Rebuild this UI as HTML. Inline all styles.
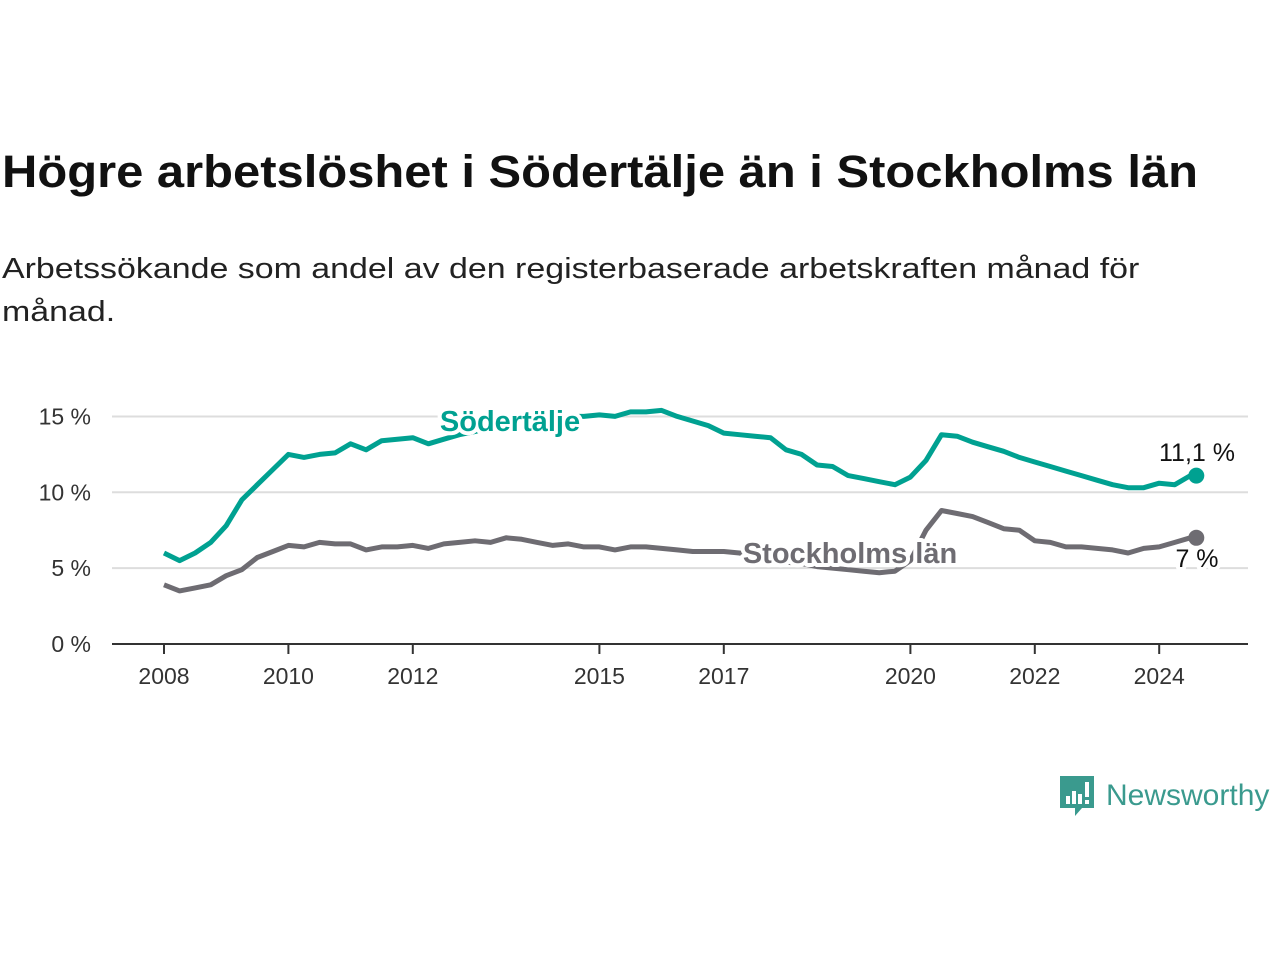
<!DOCTYPE html>
<html><head><meta charset="utf-8"><style>
body{margin:0;background:#fff;width:1280px;height:960px;overflow:hidden;font-family:"Liberation Sans","DejaVu Sans",sans-serif;color:#111}
h1{position:absolute;left:2px;top:146px;margin:0;font-size:45px;font-weight:bold;color:#111;transform:scaleX(1.087);transform-origin:left top;white-space:nowrap}
p{position:absolute;left:2px;top:248px;margin:0;font-size:29px;line-height:43px;color:#222;transform:scaleX(1.17);transform-origin:left top;white-space:nowrap}
</style></head><body>
<h1>Högre arbetslöshet i Södertälje än i Stockholms län</h1>
<p>Arbetssökande som andel av den registerbaserade arbetskraften månad för<br>månad.</p>
<svg id="chart" width="1280" height="960" style="position:absolute;left:0;top:0"></svg>
<div style="position:absolute;left:1058px;top:774px;display:flex;align-items:center">
<svg width="38" height="44"><path d="M2 2H36V34H24L17 42V34H2Z" fill="#3a9a8e"/><rect x="8" y="22" width="4" height="8" fill="#fff"/><rect x="14" y="17" width="4" height="13" fill="#fff"/><rect x="20" y="20" width="4" height="10" fill="#fff"/><rect x="27" y="8" width="4" height="15" fill="#fff"/><rect x="27" y="26" width="4" height="4" fill="#fff"/></svg>
<span style="font-size:30px;color:#3a9a8e;margin-left:10px;display:inline-block">Newsworthy</span></div>
<script>
const startYear = 2008, step = 0.25;
const sodertalje = [6.0,5.5,6.0,6.7,7.8,9.5,10.5,11.5,12.5,12.3,12.5,12.6,13.2,12.8,13.4,13.5,13.6,13.2,13.5,13.8,14.0,14.3,14.5,14.7,14.8,14.9,15.0,15.0,15.1,15.0,15.3,15.3,15.4,15.0,14.7,14.4,13.9,13.8,13.7,13.6,12.8,12.5,11.8,11.7,11.1,10.9,10.7,10.5,11.0,12.1,13.8,13.7,13.3,13.0,12.7,12.3,12.0,11.7,11.4,11.1,10.8,10.5,10.3,10.3,10.6,10.5,11.1];
const stockholm = [3.9,3.5,3.7,3.9,4.5,4.9,5.7,6.1,6.5,6.4,6.7,6.6,6.6,6.2,6.4,6.4,6.5,6.3,6.6,6.7,6.8,6.7,7.0,6.9,6.7,6.5,6.6,6.4,6.4,6.2,6.4,6.4,6.3,6.2,6.1,6.1,6.1,6.0,5.8,5.6,5.4,5.3,5.1,5.0,4.9,4.8,4.7,4.8,5.5,7.5,8.8,8.6,8.4,8.0,7.6,7.5,6.8,6.7,6.4,6.4,6.3,6.2,6.0,6.3,6.4,6.7,7.0];
const yTicks = [0,5,10,15];
const xTicks = [2008,2010,2012,2015,2017,2020,2022,2024];
const ns="http://www.w3.org/2000/svg", svg=document.getElementById('chart');
const x = yr => 164 + (yr-2008)*62.2;
const y = v => 644 - v*15.17;
function mk(t,a,p){const e=document.createElementNS(ns,t);for(const k in a)e.setAttribute(k,a[k]);(p||svg).appendChild(e);return e;}
yTicks.forEach(v=>{
  if(v>0){const g=mk('line',{x1:112,x2:1248,y1:y(v),y2:y(v),stroke:'#ddd','stroke-width':2});
  
  }
  const t=mk('text',{x:91,y:y(v)+8,'text-anchor':'end','font-size':23,fill:'#333'});t.textContent=v+' %';
  
  
});
const ax=mk('line',{x1:112,x2:1248,y1:644,y2:644,stroke:'#333','stroke-width':2});


xTicks.forEach(yr=>{
  const tk=mk('line',{x1:x(yr),x2:x(yr),y1:644,y2:654,stroke:'#333','stroke-width':2});
  
  
  const t=mk('text',{x:x(yr),y:684,'text-anchor':'middle','font-size':23,fill:'#333'});t.textContent=yr;
  
  
});
function series(data,color,name){
  const d=data.map((v,i)=>(i?'L':'M')+x(startYear+i*step).toFixed(1)+' '+y(v).toFixed(1)).join('');
  const p=mk('path',{d:d,fill:'none',stroke:color,'stroke-width':5,'stroke-linejoin':'round'});
  
  
  const last=data.length-1;
  const c=mk('circle',{cx:x(startYear+last*step)+6,cy:y(data[last]),r:8,fill:color});
  
  
}
series(stockholm,'#6e6c72','stockholm');
series(sodertalje,'#00a191','sodertalje');
function label(txt,xx,yy,color,size,bold,anchor,name){
  const t=mk('text',{x:xx,y:yy,'text-anchor':anchor,'font-size':size,'font-weight':bold?'bold':'normal',fill:color,stroke:'#fff','stroke-width':8,'paint-order':'stroke','stroke-linejoin':'round'});
  t.textContent=txt;
  
  
  return t;
}
label('Södertälje',510,431,'#00a191',29,true,'middle','sodertalje-label');
label('Stockholms län',850,563,'#6e6c72',29,true,'middle','stockholm-label');
label(String(sodertalje[sodertalje.length-1]).replace('.',',')+' %',1197,461,'#111',25,false,'middle','sodertalje-end-value');
label(String(stockholm[stockholm.length-1]).replace('.',',')+' %',1197,567,'#111',25,false,'middle','stockholm-end-value');
</script>
</body></html>
